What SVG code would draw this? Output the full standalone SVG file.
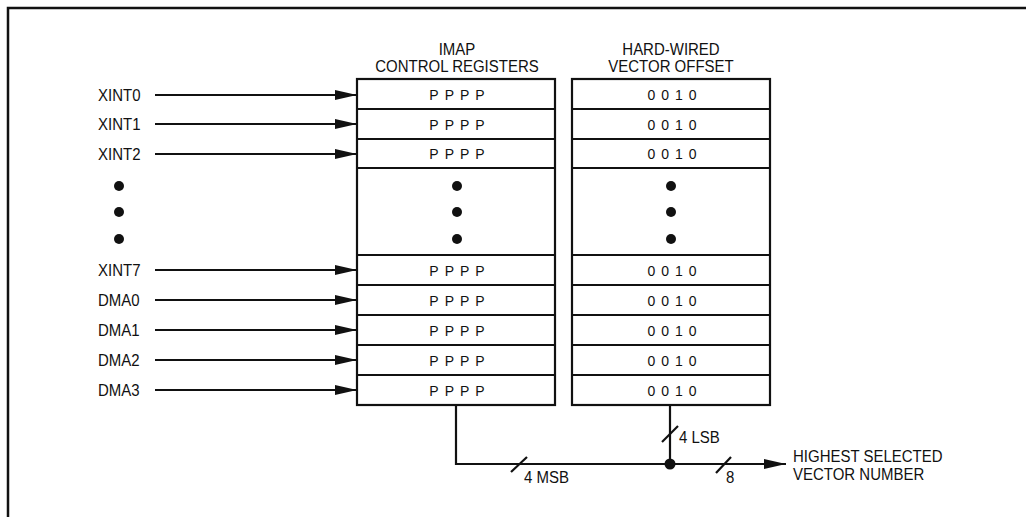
<svg xmlns="http://www.w3.org/2000/svg" width="1026" height="517" viewBox="0 0 1026 517">
<style>
.t{font-family:"Liberation Sans",Arial,sans-serif;font-size:15px;fill:#111}
.m{text-anchor:middle}
.c{font-family:"Liberation Sans",Arial,sans-serif;font-size:14px;fill:#111;text-anchor:middle;letter-spacing:6px}
.box{fill:#fff;stroke:#111;stroke-width:2.2}
.w{fill:none;stroke:#111;stroke-width:2.2}
.frame{fill:none;stroke:#111;stroke-width:2.5}
.dot{fill:#111}
</style>
<defs>
<marker id="ah" markerUnits="userSpaceOnUse" markerWidth="22" markerHeight="10" refX="22" refY="5" orient="auto">
<path d="M0,0 L22,5 L0,10 z" fill="#111"/>
</marker>
</defs>
<rect width="1026" height="517" fill="#fff"/>
<path class="frame" d="M8,517 V8 H1026"/>

<g id="header-imap">
<text class="t m" transform="translate(457,54.5) scale(1,1.05)">IMAP</text>
<text class="t m" transform="translate(457,71.5) scale(1,1.05)">CONTROL REGISTERS</text>
</g>
<g id="header-offset">
<text class="t m" transform="translate(671,54.5) scale(1,1.05)">HARD-WIRED</text>
<text class="t m" transform="translate(671,71.5) scale(1,1.05)">VECTOR OFFSET</text>
</g>

<g id="inputs">
<text class="t" transform="translate(98,101) scale(1,1.15)">XINT0</text>
<text class="t" transform="translate(98,130) scale(1,1.15)">XINT1</text>
<text class="t" transform="translate(98,160) scale(1,1.15)">XINT2</text>
<circle class="dot" cx="119" cy="186" r="5"/>
<circle class="dot" cx="119" cy="212" r="5"/>
<circle class="dot" cx="119" cy="239" r="5"/>
<text class="t" transform="translate(98,276) scale(1,1.15)">XINT7</text>
<text class="t" transform="translate(98,306) scale(1,1.15)">DMA0</text>
<text class="t" transform="translate(98,336) scale(1,1.15)">DMA1</text>
<text class="t" transform="translate(98,366) scale(1,1.15)">DMA2</text>
<text class="t" transform="translate(98,396) scale(1,1.15)">DMA3</text>
</g>

<g id="imap-registers">
<rect class="box" x="357" y="79" width="198" height="326"/>
<path class="w" d="M357,109 H555 M357,139 H555 M357,168 H555 M357,255 H555 M357,285 H555 M357,315 H555 M357,345 H555 M357,375 H555"/>
<text class="c" transform="translate(460,99.5) scale(1,1.1)">PPPP</text>
<text class="c" transform="translate(460,129.5) scale(1,1.1)">PPPP</text>
<text class="c" transform="translate(460,159) scale(1,1.1)">PPPP</text>
<circle class="dot" cx="457" cy="186" r="5"/>
<circle class="dot" cx="457" cy="212" r="5"/>
<circle class="dot" cx="457" cy="239" r="5"/>
<text class="c" transform="translate(460,275.5) scale(1,1.1)">PPPP</text>
<text class="c" transform="translate(460,305.5) scale(1,1.1)">PPPP</text>
<text class="c" transform="translate(460,335.5) scale(1,1.1)">PPPP</text>
<text class="c" transform="translate(460,365.5) scale(1,1.1)">PPPP</text>
<text class="c" transform="translate(460,395.5) scale(1,1.1)">PPPP</text>
</g>

<g id="vector-offset">
<rect class="box" x="572" y="79" width="198" height="326"/>
<path class="w" d="M572,109 H770 M572,139 H770 M572,168 H770 M572,255 H770 M572,285 H770 M572,315 H770 M572,345 H770 M572,375 H770"/>
<text class="c" transform="translate(675,99.5) scale(1,1.1)">0010</text>
<text class="c" transform="translate(675,129.5) scale(1,1.1)">0010</text>
<text class="c" transform="translate(675,159) scale(1,1.1)">0010</text>
<circle class="dot" cx="671" cy="186" r="5"/>
<circle class="dot" cx="671" cy="212" r="5"/>
<circle class="dot" cx="671" cy="239" r="5"/>
<text class="c" transform="translate(675,275.5) scale(1,1.1)">0010</text>
<text class="c" transform="translate(675,305.5) scale(1,1.1)">0010</text>
<text class="c" transform="translate(675,335.5) scale(1,1.1)">0010</text>
<text class="c" transform="translate(675,365.5) scale(1,1.1)">0010</text>
<text class="c" transform="translate(675,395.5) scale(1,1.1)">0010</text>
</g>

<g id="output-label">
<text class="t" transform="translate(793,461.5) scale(1,1.1)">HIGHEST SELECTED</text>
<text class="t" transform="translate(793,480) scale(1,1.1)">VECTOR NUMBER</text>
</g>

<g id="connectors">
<path class="w" marker-end="url(#ah)" d="M155,95 H357"/>
<path class="w" marker-end="url(#ah)" d="M155,124 H357"/>
<path class="w" marker-end="url(#ah)" d="M155,154 H357"/>
<path class="w" marker-end="url(#ah)" d="M155,270 H357"/>
<path class="w" marker-end="url(#ah)" d="M155,300 H357"/>
<path class="w" marker-end="url(#ah)" d="M155,330 H357"/>
<path class="w" marker-end="url(#ah)" d="M155,360 H357"/>
<path class="w" marker-end="url(#ah)" d="M155,390 H357"/>
<path class="w" d="M456,405 V464 H670"/>
<path class="w" d="M670,405 V464"/>
<path class="w" marker-end="url(#ah)" d="M670,464 H786"/>
<circle class="dot" cx="670" cy="464" r="5.5"/>
<path class="w" stroke-width="2.5" d="M662,442 L678,426"/>
<path class="w" stroke-width="2.5" d="M511,472 L527,457"/>
<path class="w" stroke-width="2.5" d="M716,473 L731,457"/>
<text class="t" transform="translate(679,443) scale(1,1.15)">4 LSB</text>
<text class="t" transform="translate(524,483) scale(1,1.15)">4 MSB</text>
<text class="t" transform="translate(726,483) scale(1,1.15)">8</text>
</g>
</svg>
